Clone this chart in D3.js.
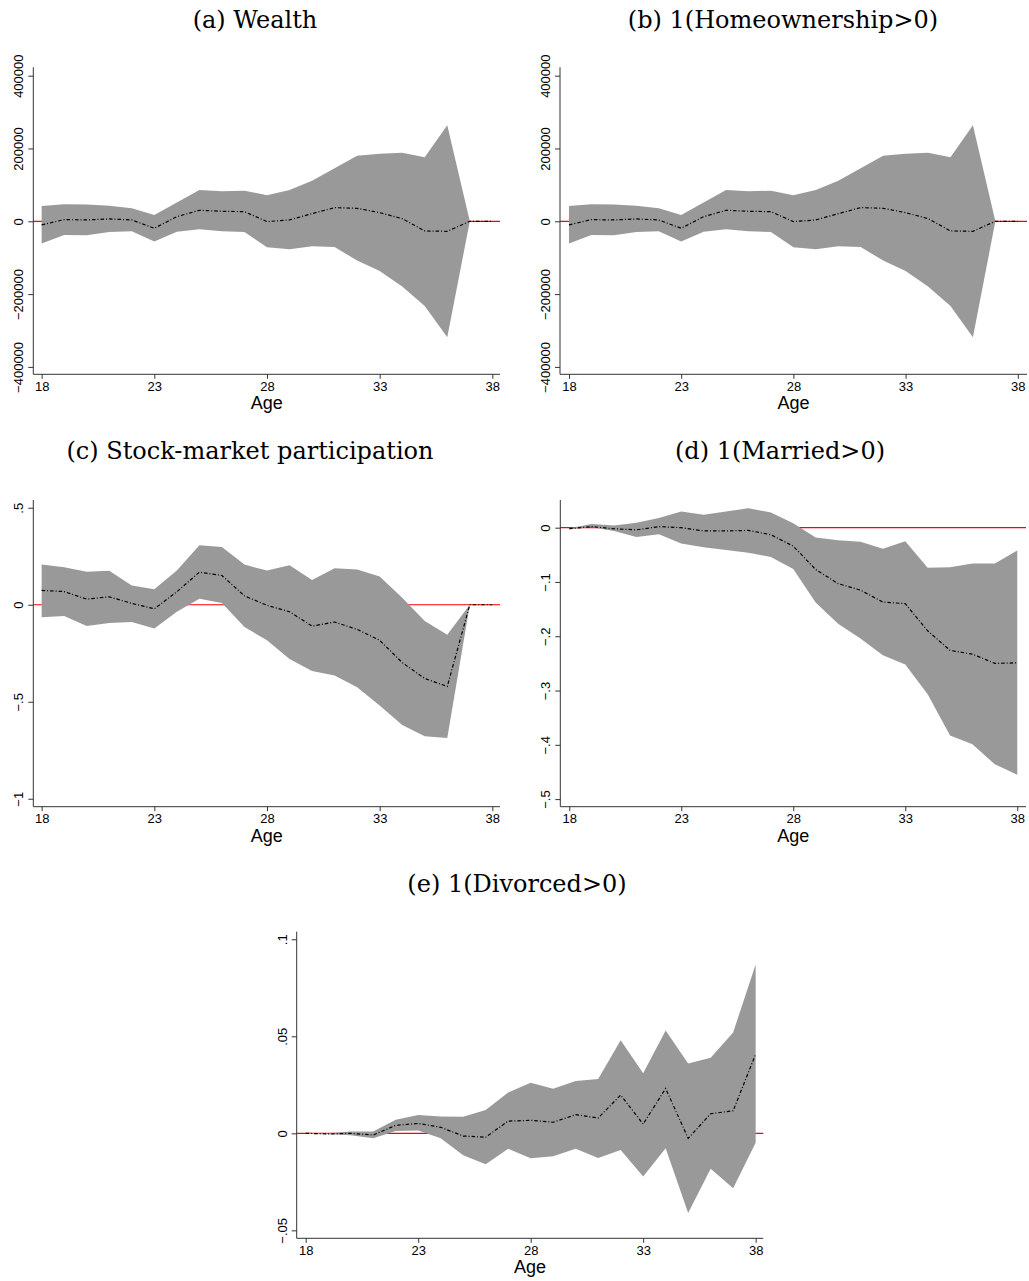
<!DOCTYPE html>
<html>
<head>
<meta charset="utf-8">
<script src="https://cdnjs.cloudflare.com/ajax/libs/d3/7.8.5/d3.min.js"></script>
<style>
	body { margin: 0; background: #fff; }
	svg { display: block; }
</style>
</head>
<body>
<script>
const ages = d3.range(18, 39);

// (a) Wealth and (b) 1(Homeownership>0) show the same estimates
const wealthMean = [-10000, 4600, 3700, 6400, 3700, -19200, 12800, 30200, 27500, 26500, -900, 3700, 21000, 37500, 35700, 23800, 7300, -26500, -27500, 0, 0];
const wealthHi = [42000, 46700, 45800, 43000, 35700, 17400, 51300, 86000, 82400, 84200, 71400, 86000, 111700, 145500, 180300, 185800, 188500, 175700, 263600, 0, null];
const wealthLo = [-61300, -37500, -38400, -29300, -27500, -55800, -28400, -22000, -27500, -29300, -71400, -76900, -68600, -70500, -108000, -136400, -179400, -232500, -318500, 0, null];

const stockMean = [0.074, 0.068, 0.029, 0.041, 0.007, -0.021, 0.067, 0.168, 0.151, 0.046, -0.003, -0.036, -0.110, -0.089, -0.127, -0.183, -0.298, -0.380, -0.421, 0, 0];
const stockHi = [0.207, 0.193, 0.170, 0.175, 0.099, 0.080, 0.176, 0.307, 0.298, 0.207, 0.176, 0.204, 0.128, 0.188, 0.182, 0.146, 0.036, -0.084, -0.154, 0, null];
const stockLo = [-0.065, -0.058, -0.110, -0.094, -0.089, -0.123, -0.036, 0.031, 0.009, -0.115, -0.183, -0.279, -0.341, -0.365, -0.425, -0.519, -0.620, -0.678, -0.687, 0, null];

const marriedMean = [-0.002, 0.002, -0.002, -0.004, 0.002, 0, -0.006, -0.006, -0.005, -0.013, -0.034, -0.077, -0.103, -0.115, -0.137, -0.140, -0.190, -0.226, -0.233, -0.250, -0.249];
const marriedHi = [-0.001, 0.007, 0.004, 0.009, 0.018, 0.030, 0.024, 0.030, 0.036, 0.028, 0.008, -0.018, -0.023, -0.026, -0.039, -0.025, -0.074, -0.073, -0.066, -0.066, -0.042];
const marriedLo = [-0.003, 0.001, -0.006, -0.017, -0.012, -0.029, -0.036, -0.041, -0.046, -0.054, -0.076, -0.138, -0.177, -0.204, -0.235, -0.252, -0.307, -0.383, -0.399, -0.436, -0.455];

const divorcedMean = [0, -0.0003, 0, -0.0009, 0.0041, 0.0051, 0.0031, -0.0014, -0.002, 0.0063, 0.0067, 0.0057, 0.0096, 0.0079, 0.0197, 0.0048, 0.0231, -0.0026, 0.0101, 0.0116, 0.0408];
const divorcedHi = [0.0003, 0, 0.001, 0.001, 0.007, 0.0094, 0.0087, 0.0086, 0.012, 0.021, 0.026, 0.023, 0.027, 0.028, 0.048, 0.031, 0.053, 0.036, 0.039, 0.052, 0.087];
const divorcedLo = [-0.0003, -0.0005, -0.001, -0.0026, 0.0012, 0.0014, -0.0026, -0.0113, -0.016, -0.0079, -0.0128, -0.0118, -0.0079, -0.0127, -0.0086, -0.0223, -0.0077, -0.041, -0.0183, -0.0283, -0.0048];

const xTicks = [18, 23, 28, 33, 38];
const wealthTicks = [-400000, -200000, 0, 200000, 400000];
const stockTicks = [-1, -0.5, 0, 0.5];
const marriedTicks = [-0.5, -0.4, -0.3, -0.2, -0.1, 0];
const divorcedTicks = [-0.05, 0, 0.05, 0.1];

const titles = ["(a) Wealth", "(b) 1(Homeownership>0)", "(c) Stock-market participation", "(d) 1(Married>0)", "(e) 1(Divorced>0)"];

const w = 1029;
const h = 1281;

const svg = d3.select("body")
	.append("svg")
	.attr("width", w)
	.attr("height", h);

// Stata-like tick format: .5, -.05, 200000
function stataFmt(v) {
	if (v === 0) return "0";
	let s = String(Math.abs(+v.toPrecision(6)));
	if (s.startsWith("0.")) s = s.slice(1);
	return (v < 0 ? "\u2212" : "") + s;
}

const panels = [
	{ title: titles[0], mean: wealthMean, hi: wealthHi, lo: wealthLo, yTicks: wealthTicks,
		left: 33.3, right: 500, top: 67.3, bottom: 374.3, xDom: [17.63, 38.34], yDom: [-420300, 423000], titleX: 255, titleY: 28 },
	{ title: titles[1], mean: wealthMean, hi: wealthHi, lo: wealthLo, yTicks: wealthTicks,
		left: 560, right: 1027, top: 67.3, bottom: 374.3, xDom: [17.6, 38.41], yDom: [-420300, 423000], titleX: 783, titleY: 28 },
	{ title: titles[2], mean: stockMean, hi: stockHi, lo: stockLo, yTicks: stockTicks,
		left: 33.3, right: 500, top: 500, bottom: 806.7, xDom: [17.63, 38.34], yDom: [-1.041, 0.540], titleX: 250, titleY: 459 },
	{ title: titles[3], mean: marriedMean, hi: marriedHi, lo: marriedLo, yTicks: marriedTicks,
		left: 560.3, right: 1026, top: 500, bottom: 806.7, xDom: [17.6, 38.39], yDom: [-0.514, 0.051], titleX: 780, titleY: 459 },
	{ title: titles[4], mean: divorcedMean, hi: divorcedHi, lo: divorcedLo, yTicks: divorcedTicks,
		left: 296.7, right: 763.3, top: 931.7, bottom: 1238.3, xDom: [17.6, 38.34], yDom: [-0.0541, 0.1039], titleX: 517, titleY: 892 }
];

panels.forEach(p => {
	const g = svg.append("g");

	const x = d3.scaleLinear().domain(p.xDom).range([p.left, p.right]);
	const y = d3.scaleLinear().domain(p.yDom).range([p.bottom, p.top]);

	const pts = ages.map((a, i) => ({ age: a, mean: p.mean[i], hi: p.hi[i], lo: p.lo[i] }));

	// zero reference line, under the band
	g.append("line")
		.attr("x1", p.left)
		.attr("x2", p.right)
		.attr("y1", y(0))
		.attr("y2", y(0))
		.attr("stroke", "#ff0000")
		.attr("stroke-width", 1.2);

	g.append("path")
		.datum(pts)
		.attr("fill", "#999999")
		.attr("d", d3.area()
			.defined(d => d.hi !== null)
			.x(d => x(d.age))
			.y0(d => y(d.lo))
			.y1(d => y(d.hi)));

	g.append("path")
		.datum(pts)
		.attr("fill", "none")
		.attr("stroke", "#000")
		.attr("stroke-width", 1.2)
		.attr("stroke-dasharray", "3.5,2,1,2")
		.attr("d", d3.line()
			.x(d => x(d.age))
			.y(d => y(d.mean)));

	// x axis
	const xAxis = g.append("g")
		.attr("transform", "translate(0," + p.bottom + ")")
		.call(d3.axisBottom(x).tickValues(xTicks).tickSize(4.5).tickPadding(3).tickFormat(d3.format("d")));
	xAxis.select(".domain").attr("d", "M" + p.left + ",0H" + p.right);

	// y axis, rotated labels
	const yAxis = g.append("g")
		.attr("transform", "translate(" + p.left + ",0)")
		.call(d3.axisLeft(y).tickValues(p.yTicks).tickSize(5).tickFormat(stataFmt));
	yAxis.select(".domain").attr("d", "M0," + p.top + "V" + p.bottom);
	yAxis.selectAll(".tick text")
		.attr("x", null)
		.attr("dy", null)
		.attr("text-anchor", "middle")
		.attr("transform", "translate(-10,0) rotate(-90)");

	g.selectAll(".domain, .tick line")
		.attr("stroke", "#333")
		.attr("stroke-width", 1);
	g.selectAll(".tick text")
		.attr("fill", "#000")
		.style("font-family", "'Liberation Sans', Arial, sans-serif")
		.style("font-size", "13px");

	g.append("text")
		.attr("x", (p.left + p.right) / 2)
		.attr("y", p.bottom + 35)
		.attr("text-anchor", "middle")
		.style("font-family", "'Liberation Sans', Arial, sans-serif")
		.style("font-size", "18px")
		.text("Age");

	svg.append("text")
		.attr("x", p.titleX)
		.attr("y", p.titleY)
		.attr("text-anchor", "middle")
		.style("font-family", "'DejaVu Serif', serif")
		.style("font-size", "24px")
		.text(p.title);
});
</script>
</body>
</html>
